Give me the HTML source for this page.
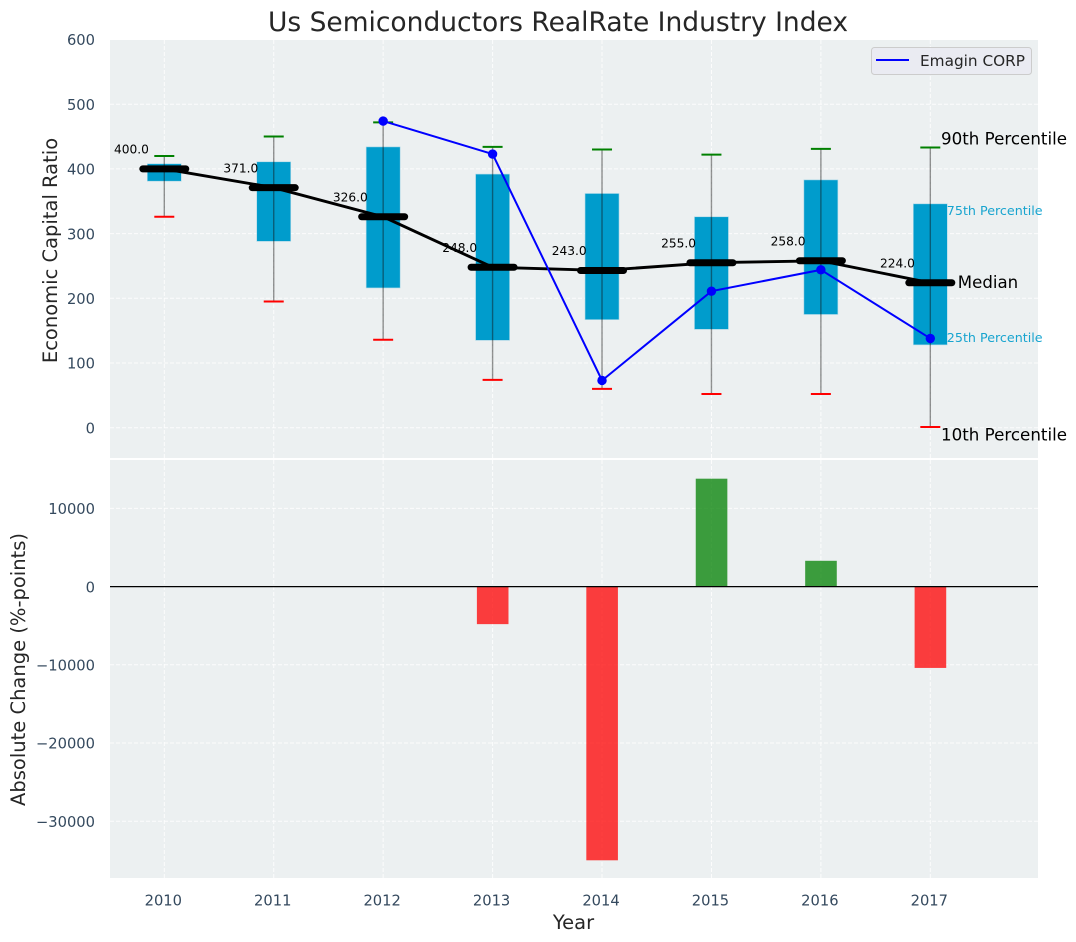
<!DOCTYPE html>
<html lang="en">
<head>
<meta charset="utf-8">
<title>Us Semiconductors RealRate Industry Index</title>
<style>
html,body{margin:0;padding:0;background:#fff;width:1076px;height:942px;overflow:hidden}
svg{display:block}
text{font-family:"DejaVu Sans","Liberation Sans",sans-serif}
</style>
</head>
<body>
<svg id="chart" xmlns="http://www.w3.org/2000/svg" width="1076" height="942" viewBox="0 0 1076 942"></svg>
<script>
const years = [2010, 2011, 2012, 2013, 2014, 2015, 2016, 2017];
const p10 = [326, 195, 136, 74, 60, 52, 52, 1];
const p25 = [381, 288, 216, 135, 167, 152, 175, 128];
const medians = [400, 371, 326, 248, 243, 255, 258, 224];
const p75 = [408, 411, 434, 392, 362, 326, 383, 346];
const p90 = [420, 450, 472, 434, 430, 422, 431, 433];
const companyValues = [null, null, 474, 423, 73, 211, 244, 138];
const changes = [null, null, null, -4800, -35000, 13800, 3300, -10400];
const topTicks = [0, 100, 200, 300, 400, 500, 600];
const bottomTicks = [-30000, -20000, -10000, 0, 10000];

const svg = document.getElementById('chart');
const NS = 'http://www.w3.org/2000/svg';
const xPos = v => 164.3 + (v - 2010) * 109.43;
const yTop = v => 427.7 - v * 0.647;
const yBot = v => 586.6 - v * 0.00782;

function mk(tag, attrs, txt) {
  const el = document.createElementNS(NS, tag);
  for (const k in attrs) el.setAttribute(k, attrs[k]);
  if (txt !== undefined) el.textContent = txt;
  svg.appendChild(el);
  return el;
}

const panelL = 110, panelR = 1038, topT = 40, topB = 458, botT = 460, botB = 878;

let el = mk('rect', {x: panelL, y: topT, width: panelR - panelL, height: topB - topT, fill: '#ecf0f1'});


el = mk('rect', {x: panelL, y: botT, width: panelR - panelL, height: botB - botT, fill: '#ecf0f1'});



const gridStyle = {stroke: '#ffffff', 'stroke-width': 1, 'stroke-dasharray': '4,2', opacity: 0.85};
years.forEach(yr => {
  const x = xPos(yr);
  el = mk('line', Object.assign({x1: x, x2: x, y1: topT, y2: topB}, gridStyle));
  
  
  el = mk('line', Object.assign({x1: x, x2: x, y1: botT, y2: botB}, gridStyle));
  
  
  el = mk('text', {x: x - 1, y: 905.5, 'text-anchor': 'middle', 'font-size': 14.7, fill: '#34495e'}, String(yr));
  
  
});
topTicks.forEach(t => {
  const y = yTop(t);
  el = mk('line', Object.assign({x1: panelL, x2: panelR, y1: y, y2: y}, gridStyle));
  
  
  el = mk('text', {x: 95, y: y + 5.7, 'text-anchor': 'end', 'font-size': 14.7, fill: '#34495e'}, String(t));
  
  
});
bottomTicks.forEach(t => {
  const y = yBot(t);
  el = mk('line', Object.assign({x1: panelL, x2: panelR, y1: y, y2: y}, gridStyle));
  
  
  const label = t < 0 ? '\u2212' + Math.abs(t) : String(t);
  el = mk('text', {x: 95, y: y + 5.7, 'text-anchor': 'end', 'font-size': 14.7, fill: '#34495e'}, label);
  
  
});

/* Boxes */
years.forEach((yr, i) => {
  const x = xPos(yr);
  el = mk('rect', {x: x - 17, y: yTop(p75[i]), width: 34, height: yTop(p25[i]) - yTop(p75[i]), fill: '#009ccc', stroke: '#aed9e8', 'stroke-width': 0.6});
  
  
});

/* Whiskers and caps */
years.forEach((yr, i) => {
  const x = xPos(yr);
  el = mk('line', {x1: x, x2: x, y1: yTop(p90[i]), y2: yTop(p10[i]), stroke: '#111', 'stroke-opacity': 0.45, 'stroke-width': 1.4});
  
  
  el = mk('line', {x1: x - 10, x2: x + 10, y1: yTop(p90[i]), y2: yTop(p90[i]), stroke: '#008000', 'stroke-width': 2});
  
  
  el = mk('line', {x1: x - 10, x2: x + 10, y1: yTop(p10[i]), y2: yTop(p10[i]), stroke: '#ff0000', 'stroke-width': 2});
  
  
});

/* Median line and bars */
el = mk('polyline', {points: years.map((yr, i) => xPos(yr) + ',' + yTop(medians[i])).join(' '), fill: 'none', stroke: '#000', 'stroke-width': 2.9});


years.forEach((yr, i) => {
  const x = xPos(yr);
  const y = yTop(medians[i]);
  el = mk('line', {x1: x - 21.5, x2: x + 21.5, y1: y, y2: y, stroke: '#000', 'stroke-width': 7, 'stroke-linecap': 'round'});
  
  
  el = mk('text', {x: x - 50.3, y: y - 15.3, 'font-size': 12.2, fill: '#000'}, medians[i].toFixed(1));
  
  
});

/* Company series */
const companyPts = [];
years.forEach((yr, i) => {
  if (companyValues[i] !== null) companyPts.push([xPos(yr), yTop(companyValues[i])]);
});
el = mk('polyline', {points: companyPts.map(p => p.join(',')).join(' '), fill: 'none', stroke: '#0000ff', 'stroke-width': 2});


companyPts.forEach(p => {
  el = mk('circle', {cx: p[0], cy: p[1], r: 4.7, fill: '#0000ff'});
  
  
});

/* Percentile annotations for the last year */
const last = years.length - 1;
const lastX = xPos(years[last]);
el = mk('text', {x: lastX + 10.7, y: yTop(p90[last]) - 3, 'font-size': 16.7, fill: '#000'}, '90th Percentile');


el = mk('text', {x: lastX + 16.5, y: yTop(p75[last]) + 11, 'font-size': 12.7, fill: '#009ccc', opacity: 0.9}, '75th Percentile');


el = mk('text', {x: lastX + 27.5, y: yTop(medians[last]) + 5, 'font-size': 16.6, fill: '#000'}, 'Median');


el = mk('text', {x: lastX + 16.5, y: yTop(p25[last]) - 3, 'font-size': 12.7, fill: '#009ccc', opacity: 0.9}, '25th Percentile');


el = mk('text', {x: lastX + 10.7, y: yTop(p10[last]) + 13.5, 'font-size': 16.7, fill: '#000'}, '10th Percentile');



/* Change bars */
years.forEach((yr, i) => {
  if (changes[i] === null) return;
  const v = changes[i];
  const y0 = yBot(Math.max(v, 0));
  const y1 = yBot(Math.min(v, 0));
  el = mk('rect', {x: xPos(yr) - 15.7, y: y0, width: 31.6, height: y1 - y0, fill: v < 0 ? '#ff0000' : '#008000', 'fill-opacity': 0.75});
  
  
});
el = mk('line', {x1: panelL, x2: panelR, y1: yBot(0), y2: yBot(0), stroke: '#000', 'stroke-width': 1.3});



/* Legend */
el = mk('rect', {x: 871.5, y: 47.5, width: 160, height: 27, rx: 3, fill: '#eaeaf2', 'fill-opacity': 0.85, stroke: '#cccccc', 'stroke-width': 1});


el = mk('line', {x1: 876, x2: 909, y1: 60, y2: 60, stroke: '#0000ff', 'stroke-width': 2});


el = mk('text', {x: 920, y: 66, 'font-size': 15.3, fill: '#262626'}, 'Emagin CORP');



/* Titles */
el = mk('text', {x: 558, y: 31, 'text-anchor': 'middle', 'font-size': 26.5, fill: '#262626'}, 'Us Semiconductors RealRate Industry Index');


el = mk('text', {x: 573.5, y: 929, 'text-anchor': 'middle', 'font-size': 19.5, fill: '#262626'}, 'Year');


el = mk('text', {transform: 'translate(57,250.5) rotate(-90)', 'text-anchor': 'middle', 'font-size': 19.5, fill: '#262626'}, 'Economic Capital Ratio');


el = mk('text', {transform: 'translate(25,669.5) rotate(-90)', 'text-anchor': 'middle', 'font-size': 19.5, fill: '#262626'}, 'Absolute Change (%-points)');


</script>
</body>
</html>
